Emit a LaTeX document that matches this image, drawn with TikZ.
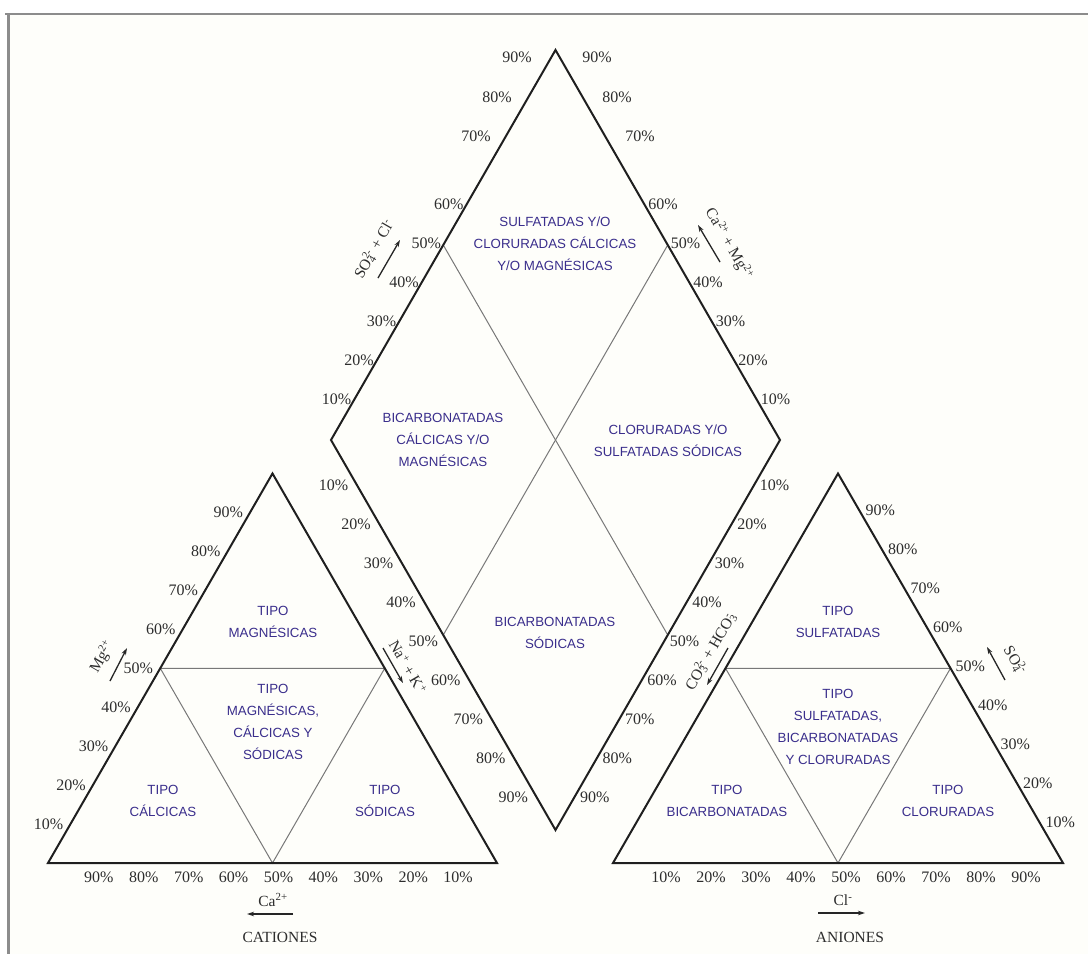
\documentclass[tikz,border=0pt]{standalone}
\usepackage{fontspec}
\setmainfont{Liberation Serif}
\newfontfamily\regfont{Liberation Sans}
\usetikzlibrary{calc,arrows.meta}
\definecolor{regcol}{RGB}{58,46,140}
\definecolor{framecol}{RGB}{140,140,140}
\definecolor{bgcol}{RGB}{254,254,250}
\definecolor{pctcol}{RGB}{45,45,45}
\definecolor{innercol}{RGB}{120,120,120}
\newcommand\supsub[2]{\rlap{\textsubscript{#1}}\textsuperscript{#2}}
\tikzset{
  outer/.style={line width=2pt, draw=black!88, line join=miter},
  inner/.style={line width=1pt, draw=innercol},
  pct/.style={font=\fontsize{16}{16}\selectfont, text=pctcol, inner sep=0pt},
  region/.style={font=\regfont\fontsize{13.3}{22}\selectfont, text=regcol, align=center, inner sep=0pt},
  ion/.style={font=\fontsize{15.5}{15.5}\selectfont, text=pctcol, inner sep=0pt},
  ionarrow/.style={line width=1.3pt, draw=black!85, -{Stealth[length=7pt,width=4.5pt]}},
  frameline/.style={line width=2.5pt, draw=framecol},
}
\begin{document}
\begin{tikzpicture}[x=1pt,y=-1pt]
\useasboundingbox (0,0) rectangle (1088,954);
\fill[white] (0,0) rectangle (1088,954);
\fill[bgcol] (9,14) rectangle (1088,954);
\draw[frameline] (5,14) -- (1088,14);
\draw[frameline] (8.5,14) -- (8.5,954);

% vertices
\coordinate (LA) at (48,863);
\coordinate (LB) at (497,863);
\coordinate (LC) at (272.5,473.5);
\coordinate (RA) at (613,863);
\coordinate (RB) at (1063,863);
\coordinate (RC) at (838,473.5);
\coordinate (DT) at (555.5,50);
\coordinate (DL) at (331,440);
\coordinate (DR) at (780,440);
\coordinate (DB) at (555.5,830);

% midpoints
\coordinate (LAC) at ($(LA)!0.5!(LC)$);
\coordinate (LBC) at ($(LB)!0.5!(LC)$);
\coordinate (LAB) at ($(LA)!0.5!(LB)$);
\coordinate (RAC) at ($(RA)!0.5!(RC)$);
\coordinate (RBC) at ($(RB)!0.5!(RC)$);
\coordinate (RAB) at ($(RA)!0.5!(RB)$);
\coordinate (DLT) at ($(DL)!0.5!(DT)$);
\coordinate (DRT) at ($(DR)!0.5!(DT)$);
\coordinate (DLB) at ($(DL)!0.5!(DB)$);
\coordinate (DRB) at ($(DR)!0.5!(DB)$);

% inner lines
\draw[inner] (LAC) -- (LBC) -- (LAB) -- cycle;
\draw[inner] (RAC) -- (RBC) -- (RAB) -- cycle;
\draw[inner] (DLT) -- (DRB);
\draw[inner] (DRT) -- (DLB);

% outer shapes
\draw[outer] (LA) -- (LB) -- (LC) -- cycle;
\draw[outer] (RA) -- (RB) -- (RC) -- cycle;
\draw[outer] (DT) -- (DR) -- (DB) -- (DL) -- cycle;

% percentage labels
\foreach \k in {1,...,6} {
  \node[pct, anchor=east, xshift=-2pt, yshift=2pt] (dul\k) at ($(DL)!{\k*0.1}!(DT)$) {\k0\%};
  \node[pct, anchor=west, xshift=3pt, yshift=2pt] (dur\k) at ($(DR)!{\k*0.1}!(DT)$) {\k0\%};
}
\node[pct] (dul7) at (476,136) {70\%};
\node[pct] (dul8) at (497,97) {80\%};
\node[pct] (dul9) at (517,57) {90\%};
\node[pct] (dur7) at (640,136) {70\%};
\node[pct] (dur8) at (617,97) {80\%};
\node[pct] (dur9) at (597,57) {90\%};
\foreach \k in {1,...,9} {
  \node[pct, anchor=east, xshift=-5pt, yshift=-6pt] (dll\k) at ($(DL)!{\k*0.1}!(DB)$) {\k0\%};
  \node[pct, anchor=west, xshift=2pt, yshift=-6pt] (dlr\k) at ($(DR)!{\k*0.1}!(DB)$) {\k0\%};
  \node[pct, anchor=east, xshift=-7pt] (ll\k) at ($(LA)!{\k*0.1}!(LC)$) {\k0\%};
  \node[pct, anchor=west, xshift=5pt, yshift=2pt] (rr\k) at ($(RB)!{\k*0.1}!(RC)$) {\k0\%};
  \node[pct, anchor=north, xshift=6pt, yshift=-9pt] (lb\k) at ($(LB)!{\k*0.1}!(LA)$) {\k0\%};
  \node[pct, anchor=north, xshift=8pt, yshift=-9pt] (rb\k) at ($(RA)!{\k*0.1}!(RB)$) {\k0\%};
}

% region labels
\node[region] (dtop) at (555,244) {SULFATADAS Y/O\\CLORURADAS CÁLCICAS\\Y/O MAGNÉSICAS};
\node[region] (dleft) at (443,440) {BICARBONATADAS\\CÁLCICAS Y/O\\MAGNÉSICAS};
\node[region] (dright) at (668,441) {CLORURADAS Y/O\\SULFATADAS SÓDICAS};
\node[region] (dbot) at (555,633) {BICARBONATADAS\\SÓDICAS};
\node[region] (ltop) at (273,622) {TIPO\\MAGNÉSICAS};
\node[region] (lmid) at (273,722) {TIPO\\MAGNÉSICAS,\\CÁLCICAS Y\\SÓDICAS};
\node[region] (lleft) at (163,801) {TIPO\\CÁLCICAS};
\node[region] (lright) at (385,801) {TIPO\\SÓDICAS};
\node[region] (rtop) at (838,622) {TIPO\\SULFATADAS};
\node[region] (rmid) at (838,727) {TIPO\\SULFATADAS,\\BICARBONATADAS\\Y CLORURADAS};
\node[region] (rleft) at (727,801) {TIPO\\BICARBONATADAS};
\node[region] (rright) at (948,801) {TIPO\\CLORURADAS};

% ion labels
\node[ion, rotate=60] (so4cl) at (374,249) {SO\supsub{4}{2-} + Cl\textsuperscript{-}};
\node[ion, rotate=-60] (camg) at (729,244) {Ca\textsuperscript{2+} + Mg\textsuperscript{2+}};
\node[ion, rotate=-60] (nak) at (408,667) {Na\textsuperscript{+} + K\textsuperscript{+}};
\node[ion, rotate=60] (co3) at (710,652) {CO\supsub{3}{2-} + HCO\supsub{3}{-}};
\node[ion, rotate=60] (mg) at (102,657) {Mg\textsuperscript{2+}};
\node[ion, rotate=-60] (so4) at (1015,660) {SO\supsub{4}{2-}};
\node[ion] (ca) at (273,900) {Ca\textsuperscript{2+}};
\node[ion] (cl) at (843,900) {Cl\textsuperscript{-}};
\node[ion] (cationes) at (280,937) {CATIONES};
\node[ion] (aniones) at (850,937) {ANIONES};

% arrows
\coordinate (a1s) at (378,278); \coordinate (a1e) at (400,240);
\coordinate (a2s) at (720,262); \coordinate (a2e) at (698,225);
\coordinate (a3s) at (383,648); \coordinate (a3e) at (403,683);
\coordinate (a4s) at (728,648); \coordinate (a4e) at (707,685);
\coordinate (a5s) at (110,681); \coordinate (a5e) at (127,648);
\coordinate (a6s) at (1005,680); \coordinate (a6e) at (987,647);
\coordinate (a7s) at (293,914); \coordinate (a7e) at (247,914);
\coordinate (a8s) at (818,913); \coordinate (a8e) at (865,913);
\draw[ionarrow] (a1s) -- (a1e);
\draw[ionarrow] (a2s) -- (a2e);
\draw[ionarrow] (a3s) -- (a3e);
\draw[ionarrow] (a4s) -- (a4e);
\draw[ionarrow] (a5s) -- (a5e);
\draw[ionarrow] (a6s) -- (a6e);
\draw[ionarrow] (a7s) -- (a7e);
\draw[ionarrow] (a8s) -- (a8e);
\end{tikzpicture}
\end{document}
